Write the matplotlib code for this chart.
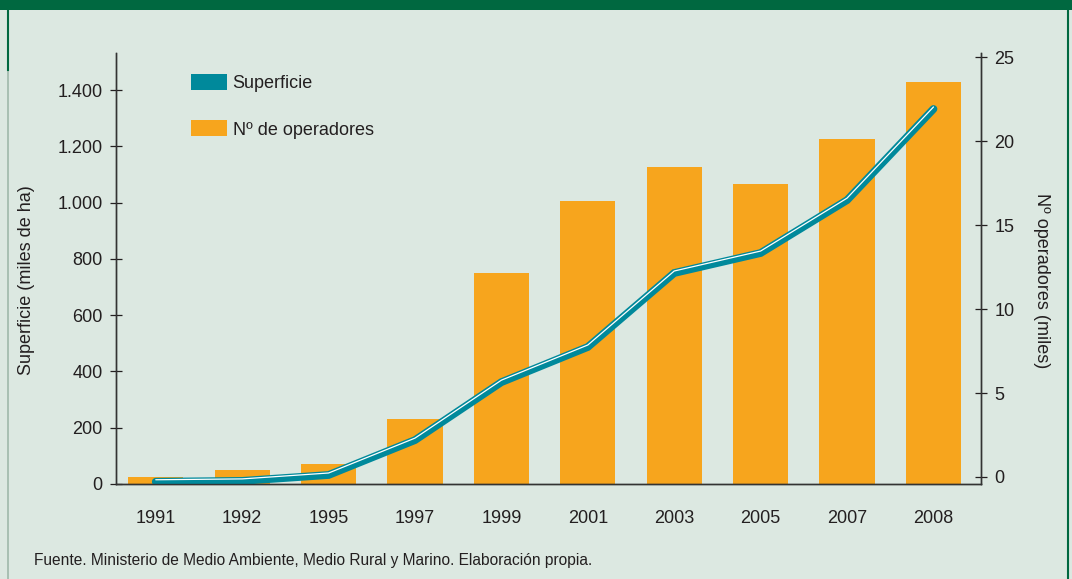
import numpy as np
import matplotlib
matplotlib.use("Agg")
import matplotlib.pyplot as plt
from matplotlib.patches import Patch, Rectangle
from matplotlib.lines import Line2D
from matplotlib.transforms import offset_copy

plt.rcParams['font.family'] = ['Liberation Sans Narrow', 'DejaVu Sans Condensed', 'Liberation Sans', 'DejaVu Sans']

# data
years = ['1991', '1992', '1995', '1997', '1999', '2001', '2003', '2005', '2007', '2008']
superficie = [8, 11, 32, 156, 362, 487, 750, 821, 1009, 1333]        # miles de ha
operadores = [0.0, 0.42, 0.77, 3.45, 12.14, 16.4, 18.45, 17.44, 20.1, 23.5]  # miles

sup_ticks = [0, 200, 400, 600, 800, 1000, 1200, 1400]
sup_ticklabels = ['0', '200', '400', '600', '800', '1.000', '1.200', '1.400']
op_ticks = [0, 5, 10, 15, 20, 25]

BG = '#dce8e1'
ORANGE = '#f7a51d'
TEAL = '#00899b'
GREEN = '#006840'
TXT = '#231f20'

fig = plt.figure(figsize=(10.72, 5.79), dpi=100, facecolor=BG)

# frame
fig.add_artist(Rectangle((0, 1 - 10 / 579), 1, 10 / 579, transform=fig.transFigure,
                         color=GREEN, lw=0))
fig.add_artist(Line2D([8 / 1072, 8 / 1072], [0, 1 - 70 / 579], transform=fig.transFigure,
                      color='#9fb8aa', lw=1.2))
fig.add_artist(Line2D([8 / 1072, 8 / 1072], [1 - 70 / 579, 1], transform=fig.transFigure,
                      color=GREEN, lw=1.5))
fig.add_artist(Line2D([1068 / 1072, 1068 / 1072], [0, 1], transform=fig.transFigure,
                      color=GREEN, lw=1.5))

ax = fig.add_axes([116 / 1072, 1 - 484 / 579, 865 / 1072, 431 / 579])
ax2 = ax.twinx()
ax.set_zorder(ax2.get_zorder() + 1)
ax.patch.set_visible(False)
ax2.patch.set_visible(False)

x = np.arange(len(years))

# bars: operadores on right axis, drawn from bottom spine
op_lo, op_hi = -0.417, 25.24
ax2.set_ylim(op_lo, op_hi)
ax2.bar(x, np.array(operadores) - op_lo, bottom=op_lo, width=0.64, color=ORANGE, lw=0)

# line: superficie on left axis, tube look
ax.set_ylim(0, 1532)
ax.plot(x, superficie, color=TEAL, lw=5.6, solid_capstyle='round', solid_joinstyle='miter')
hl = offset_copy(ax.transData, fig=fig, x=0, y=2.0, units='dots')
ax.plot(x, superficie, color='white', lw=0.9, transform=hl, solid_capstyle='round')

ax.set_xlim(-0.46, 9.55)
ax.set_xticks(x)
ax.set_xticklabels(years)
ax.tick_params(axis='x', length=0, pad=19, labelsize=13, colors=TXT)

ax.set_yticks(sup_ticks)
ax.set_yticklabels(sup_ticklabels)
ax.tick_params(axis='y', direction='inout', length=9, width=0.9, pad=5,
               labelsize=13, colors=TXT)
ax2.set_yticks(op_ticks)
ax2.tick_params(axis='y', direction='inout', length=9, width=0.9, pad=5,
                labelsize=13, colors=TXT)

for a in (ax, ax2):
    a.spines['top'].set_visible(False)
    for s in ('left', 'right', 'bottom'):
        a.spines[s].set_color('#333333')
        a.spines[s].set_linewidth(1.0)

ax.set_ylabel('Superficie (miles de ha)', fontsize=13, color=TXT, va='center')
ax.yaxis.set_label_coords(-0.104, 0.473)
ax2.set_ylabel('Nº operadores (miles)', fontsize=13, color=TXT, rotation=-90, va='center')
ax2.yaxis.set_label_coords(1.0705, 0.473)

handles = [Patch(color=TEAL, lw=0), Patch(color=ORANGE, lw=0)]
ax.legend(handles, ['Superficie', 'Nº de operadores'], loc='upper left',
          bbox_to_anchor=(75 / 865, (484 - 74) / 431), frameon=False, borderpad=0,
          borderaxespad=0, fontsize=13, handlelength=2.0, handleheight=1.0,
          handletextpad=0.3, labelspacing=1.55, labelcolor=TXT)

fig.text(34 / 1072, 1 - 561 / 579, 'Fuente. Ministerio de Medio Ambiente, Medio Rural y Marino. '
         'Elaboración propia.', fontsize=11.2, color=TXT, va='center', ha='left')

fig.savefig('out.png', dpi=100, facecolor=BG)
